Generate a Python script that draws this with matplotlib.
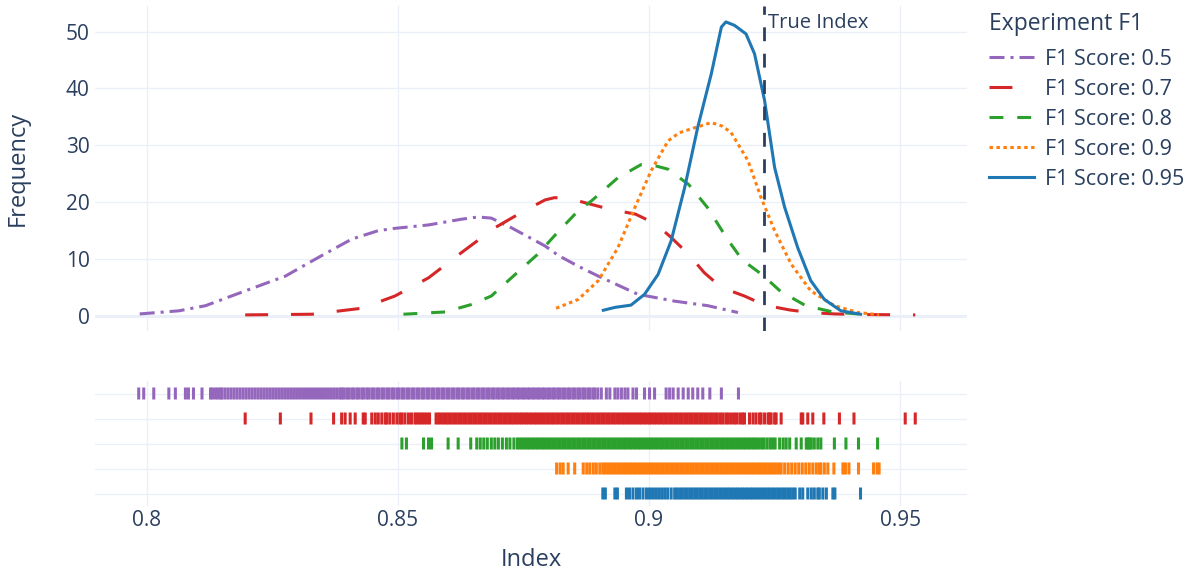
import numpy as np
import matplotlib as mpl
import matplotlib.pyplot as plt

mpl.rcParams['font.family'] = ['Open Sans', 'DejaVu Sans']
mpl.rcParams['lines.scale_dashes'] = False

# ---- data ----
labels = ['F1 Score: 0.5', 'F1 Score: 0.7', 'F1 Score: 0.8', 'F1 Score: 0.9', 'F1 Score: 0.95']
colors = ['#9467bd', '#d62728', '#2ca02c', '#ff7f0e', '#1f77b4']
true_index = 0.9229

# density curves (index, frequency)
x_05 = [0.7986, 0.8064, 0.8117, 0.8196, 0.8276, 0.8342, 0.8408, 0.8461, 0.8494, 0.8561, 0.8626,
        0.8660, 0.8686, 0.8726, 0.8793, 0.8820, 0.8860, 0.8899, 0.8978, 0.9051, 0.9117, 0.9177]
y_05 = [0.35, 0.9, 1.8, 4.4, 7.0, 10.3, 13.5, 15.0, 15.4, 16.0, 17.0,
        17.4, 17.2, 15.5, 12.3, 10.6, 8.7, 7.0, 3.8, 2.6, 1.8, 0.6]

x_07 = [0.8196, 0.8329, 0.8428, 0.8494, 0.8561, 0.8626, 0.8693, 0.8746, 0.8793, 0.8812, 0.8829,
        0.8860, 0.8920, 0.8973, 0.9013, 0.9044, 0.9078, 0.9110, 0.9144, 0.9190, 0.9230, 0.9280,
        0.9320, 0.9370, 0.9420, 0.9530]
y_07 = [0.18, 0.3, 1.35, 3.5, 6.7, 11.1, 15.5, 18.2, 20.4, 20.8, 20.7,
        20.2, 18.8, 17.9, 16.2, 13.8, 10.9, 7.6, 5.0, 3.5, 1.9, 1.05,
        0.6, 0.35, 0.25, 0.18]

x_08 = [0.8511, 0.8594, 0.8646, 0.8686, 0.8726, 0.8779, 0.8819, 0.8859, 0.8885, 0.8938, 0.8984,
        0.9004, 0.9038, 0.9079, 0.9116, 0.9156, 0.9186, 0.9226, 0.9262, 0.9312, 0.9366, 0.9445]
y_08 = [0.3, 0.7, 2.0, 3.5, 6.7, 10.9, 14.8, 18.5, 20.2, 24.3, 26.6,
        26.6, 25.8, 23.1, 19.1, 13.5, 9.8, 7.2, 4.3, 1.8, 0.7, 0.15]

x_09 = [0.8815, 0.8859, 0.8899, 0.8938, 0.8972, 0.9004, 0.9038, 0.9060, 0.9084, 0.9124, 0.9145,
        0.9163, 0.9197, 0.9223, 0.9250, 0.9283, 0.9322, 0.9369, 0.9416, 0.9458]
y_09 = [1.35, 2.9, 6.2, 12.0, 19.1, 25.5, 30.8, 32.2, 32.9, 34.0, 33.4,
        32.3, 27.3, 20.8, 15.0, 9.1, 4.4, 1.8, 0.6, 0.2]

x_095 = [0.8909, 0.8932, 0.8964, 0.8991, 0.9018, 0.9044, 0.9071, 0.9097, 0.9124, 0.9144, 0.9153,
         0.9170, 0.9193, 0.9210, 0.9230, 0.9250, 0.9270, 0.9296, 0.9322, 0.9349, 0.9382, 0.9421]
y_095 = [1.0, 1.5, 1.9, 3.8, 7.3, 13.2, 22.6, 33.2, 42.6, 50.8, 51.7,
         51.1, 49.6, 46.1, 37.9, 26.1, 19.1, 12.0, 6.2, 2.9, 0.9, 0.3]

# rug samples, in units of 1e-4
rug_05 = [7984, 7994, 8014, 8044, 8057, 8077, 8083, 8093, 8110, 8127, 8131, 8137, 8142, 8147,
          8150, 8156, 8162, 8168, 8174, 8180, 8186, 8192, 8198, 8204, 8210, 8216, 8222, 8228,
          8234, 8240, 8246, 8252, 8258, 8264, 8270, 8276, 8282, 8288, 8294, 8300, 8306, 8312,
          8318, 8324, 8330, 8336, 8342, 8348, 8354, 8360, 8366, 8372, 8378, 8384,
          8388, 8392, 8398, 8402, 8408, 8412, 8418, 8422, 8428, 8432, 8438, 8442, 8448, 8452,
          8458, 8462, 8468, 8472, 8478, 8482, 8488, 8492, 8498, 8502, 8508, 8512, 8518, 8522,
          8528, 8532, 8538, 8542, 8548, 8552, 8558, 8562, 8568, 8572, 8578, 8582, 8588, 8592,
          8598, 8602, 8608, 8612, 8618, 8622, 8628, 8632, 8638, 8642, 8648, 8652, 8658, 8662,
          8668, 8672, 8678, 8682, 8688, 8692, 8698, 8702, 8708, 8712, 8718, 8722, 8728, 8732,
          8738, 8742, 8748, 8752, 8758, 8762, 8768, 8772, 8778, 8782, 8788, 8792, 8798, 8802,
          8808, 8812, 8818, 8822, 8828, 8832, 8838, 8842, 8848, 8852, 8858, 8862, 8868, 8872,
          8878, 8882, 8888, 8892, 8898,
          8905, 8915, 8922, 8932, 8938, 8945, 8952, 8958, 8968, 8975, 8991, 9001, 9011, 9034,
          9041, 9048, 9058, 9068, 9078, 9087, 9097, 9107, 9121, 9144, 9178]

rug_07 = [8196, 8266, 8327, 8372, 8388, 8395, 8405, 8415, 8431, 8435, 8448, 8455, 8461, 8468,
          8475, 8478, 8484, 8491, 8498, 8504, 8508, 8514, 8521, 8527, 8534,
          8538, 8543, 8548, 8553, 8558, 8563,
          8576, 8581, 8586, 8591, 8596, 8601, 8606, 8611, 8616, 8621, 8626, 8631, 8636, 8641,
          8646, 8651, 8656, 8661, 8666, 8671, 8676, 8681, 8686, 8691, 8696, 8701, 8706, 8711,
          8716, 8721, 8726, 8731, 8736, 8741, 8746, 8751, 8756, 8761, 8766, 8771, 8776, 8781,
          8786, 8791, 8796, 8801, 8806, 8811, 8816, 8821, 8826, 8831, 8836, 8841, 8846, 8851,
          8856, 8861, 8866, 8871, 8876, 8881, 8886, 8891, 8896, 8901, 8906, 8911, 8916, 8921,
          8926, 8931, 8936, 8941, 8946, 8951, 8956, 8961, 8966, 8971, 8976, 8981, 8986, 8991,
          8996, 9001, 9006, 9011, 9016, 9021, 9026, 9031, 9036, 9041, 9046, 9051, 9056, 9061,
          9066, 9071, 9076, 9081, 9086, 9091, 9096, 9101, 9106, 9111, 9116, 9121, 9126, 9131,
          9136, 9142, 9147, 9153, 9158, 9164, 9170, 9175, 9181, 9186, 9190,
          9200, 9207, 9213, 9220, 9223, 9230, 9237, 9240, 9243, 9250, 9253, 9263, 9303, 9306,
          9316, 9326, 9348, 9379, 9408, 9510, 9530]

rug_08 = [8508, 8517, 8551, 8561, 8567, 8600, 8620, 8645,
          8657, 8664, 8671, 8678, 8686, 8693, 8700, 8708, 8716, 8723, 8731, 8738,
          8743, 8748, 8753, 8758, 8763, 8768, 8773, 8778, 8783, 8788, 8793, 8798, 8803, 8808,
          8813, 8818, 8823, 8828, 8833, 8838, 8843, 8848, 8853, 8858, 8863, 8868, 8873, 8878,
          8883, 8888, 8893, 8898, 8903, 8908, 8913, 8918, 8923, 8928, 8933, 8938, 8943, 8948,
          8953, 8958, 8963, 8968, 8973, 8978, 8983, 8988, 8993, 8998, 9003, 9008, 9013, 9018,
          9023, 9028, 9033, 9038, 9043, 9048, 9053, 9058, 9063, 9068, 9073, 9078, 9083, 9088,
          9093, 9098, 9103, 9108, 9113, 9118, 9123, 9128, 9133, 9138, 9143, 9148, 9153, 9158,
          9163, 9168, 9173, 9178, 9183, 9188, 9193, 9198, 9203, 9208, 9213, 9218,
          9224, 9229, 9235, 9241, 9246, 9251,
          9260, 9267, 9273, 9280, 9293, 9303, 9313, 9316, 9319, 9323, 9329, 9336, 9342, 9369,
          9392, 9417, 9455]

rug_09 = [8816, 8823, 8829, 8839, 8852, 8869, 8876, 8882, 8889, 8895, 8902, 8908,
          8913, 8918, 8923, 8928, 8933, 8938, 8943, 8948, 8953, 8958, 8963, 8968, 8973, 8978,
          8983, 8988, 8993, 8998, 9003, 9008, 9013, 9018, 9023, 9028, 9033, 9038, 9043, 9048,
          9053, 9058, 9063, 9068, 9073, 9078, 9083, 9088, 9093, 9098, 9103, 9108, 9113, 9118,
          9123, 9128, 9133, 9138, 9143, 9148, 9153, 9158, 9163, 9168, 9173, 9178, 9183, 9188,
          9193, 9198, 9203, 9208, 9213, 9218, 9223, 9228, 9233, 9238, 9243, 9248, 9253, 9258,
          9263, 9270, 9277, 9284, 9291, 9298, 9305, 9312, 9319, 9326, 9333, 9339,
          9342, 9349, 9356, 9368, 9386, 9391, 9398, 9417, 9447, 9454, 9458]

rug_095 = [8908, 8913, 8932, 8937, 8955, 8961, 8968, 8975, 8981, 8988, 8995,
           9001, 9007, 9013, 9019, 9025, 9031, 9037, 9044,
           9051, 9056, 9061, 9066, 9071, 9076, 9081, 9086, 9091, 9096, 9101, 9106, 9111, 9116,
           9121, 9126, 9131, 9136, 9141, 9146, 9151, 9156, 9161, 9166, 9171, 9176, 9181, 9186,
           9191, 9196, 9201, 9206, 9211, 9216, 9221, 9226, 9231, 9236, 9241, 9246, 9251, 9256,
           9261, 9266, 9271, 9276, 9281, 9286, 9291,
           9300, 9306, 9316, 9323, 9329, 9336, 9339, 9346, 9353, 9366, 9370, 9421]

xticks = [0.8, 0.85, 0.9, 0.95]
xtick_labels = ['0.8', '0.85', '0.9', '0.95']
yticks = [0, 10, 20, 30, 40, 50]

curves = [(x_05, y_05), (x_07, y_07), (x_08, y_08), (x_09, y_09), (x_095, y_095)]
rugs = [rug_05, rug_07, rug_08, rug_09, rug_095]
dash_styles = [(0, (10.8, 4.3, 2.2, 4.3)), (0, (16.5, 16.5)), (0, (10, 10)), (0, (2.5, 2.5)), '-']

# ---- figure ----
W, H = 1197, 576
text_color = '#2a3f5f'
grid_color = '#EBF0F8'

fig = plt.figure(figsize=(W / 100, H / 100), dpi=100)
ax = fig.add_axes([95 / W, 1 - 331 / H, 872 / W, 325 / H])
rug = fig.add_axes([95 / W, 1 - 506 / H, 872 / W, 125 / H])

handles = []
for (x, y), c, ls, name in zip(curves, colors, dash_styles, labels):
    line, = ax.plot(x, y, color=c, lw=2.2, linestyle=ls, label=name, zorder=3)
    handles.append(line)

ax.axvline(true_index, color=text_color, lw=2.0, linestyle=(0, (10, 9)), zorder=4)
ax.annotate('True Index', xy=(true_index, 0.948), xycoords=('data', 'axes fraction'),
            xytext=(3, 0), textcoords='offset points', ha='left', va='center',
            fontsize=14.5, color=text_color)

ax.set_xlim(0.7897, 0.9633)
ax.set_ylim(-2.65, 54.5)
ax.set_xticks(xticks)
ax.set_yticks(yticks)
ax.tick_params(axis='x', labelbottom=False, length=0)
ax.tick_params(axis='y', length=0, pad=4, labelsize=15, labelcolor=text_color)
ax.grid(True, color=grid_color, lw=1.0, zorder=0)
ax.axhline(0, color=grid_color, lw=2.2, zorder=1)
ax.set_axisbelow(True)

# rug rows, top row = first series
n = len(rugs)
for i, (vals, c) in enumerate(zip(rugs, colors)):
    xs = np.array(vals) / 1e4
    row = n - 1 - i
    rug.vlines(xs, row - 0.24, row + 0.24, colors=c, lw=2.2, snap=False, zorder=3)

rug.set_xlim(ax.get_xlim())
rug.set_ylim(-0.5, n - 0.5)
rug.set_xticks(xticks)
rug.set_xticklabels(xtick_labels)
rug.set_yticks(range(n))
rug.set_yticklabels([])
rug.tick_params(axis='x', length=0, pad=3, labelsize=15, labelcolor=text_color)
rug.tick_params(axis='y', length=0)
rug.grid(True, color=grid_color, lw=1.0, zorder=0)
rug.set_axisbelow(True)

for a in (ax, rug):
    for s in a.spines.values():
        s.set_visible(False)

fig.text(18 / W, 1 - 168 / H, 'Frequency', rotation=90, ha='center', va='center',
         fontsize=17, color=text_color)
fig.text(531 / W, 1 - 560 / H, 'Index', ha='center', va='center',
         fontsize=17, color=text_color)

leg = fig.legend(handles, labels, title='Experiment F1', loc='upper left',
                 bbox_to_anchor=(989 / W, 1 - 12 / H), frameon=False, fontsize=15.5,
                 title_fontsize=16.5, handlelength=2.1, handletextpad=0.5,
                 labelspacing=0.42, borderpad=0, borderaxespad=0, alignment='left',
                 labelcolor=text_color)
leg.get_title().set_color(text_color)
leg._legend_box.sep = 9.1  # gap between title and first entry, in points

fig.savefig('out.png', dpi=100)
plt.close()
